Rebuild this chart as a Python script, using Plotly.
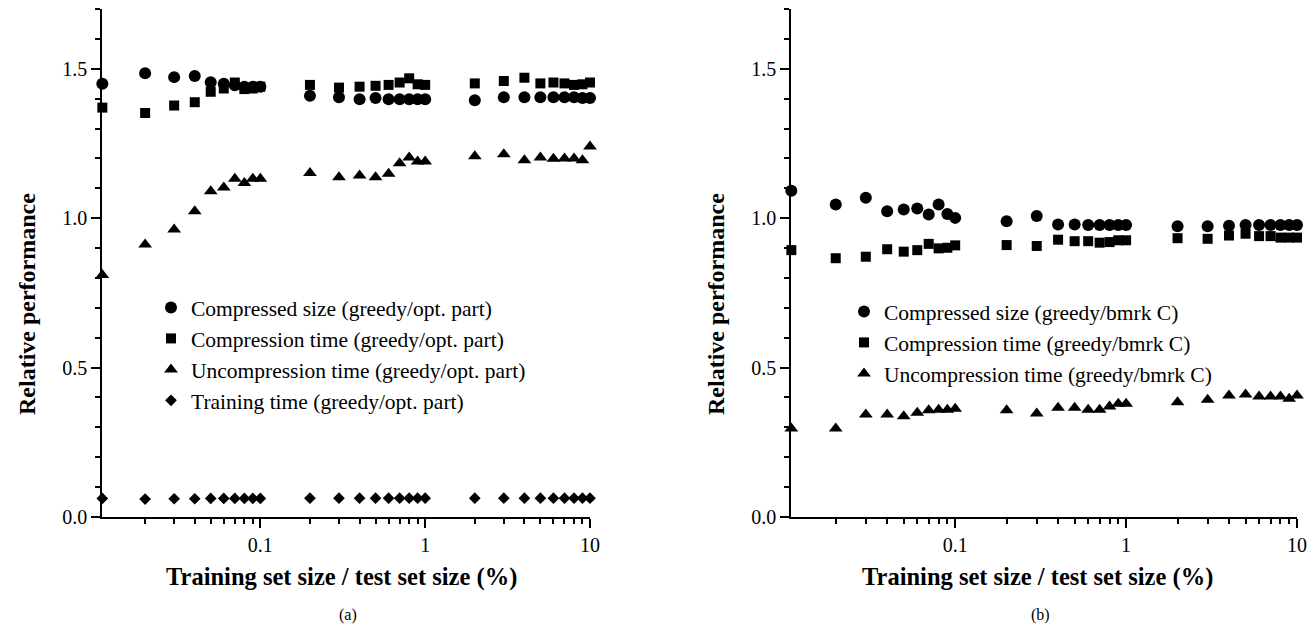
import math
import plotly.graph_objects as go

x_vals = [0.011, 0.02, 0.03, 0.04, 0.05, 0.06, 0.07, 0.08, 0.09, 0.1,
          0.2, 0.3, 0.4, 0.5, 0.6, 0.7, 0.8, 0.9, 1.0,
          2, 3, 4, 5, 6, 7, 8, 9, 10]

# Panel (a): greedy / opt. part
a_size = [1.45, 1.485, 1.472, 1.476, 1.455, 1.45, 1.445, 1.44, 1.44, 1.44,
          1.41, 1.405, 1.398, 1.402, 1.398, 1.398, 1.398, 1.398, 1.398,
          1.395, 1.405, 1.405, 1.405, 1.405, 1.405, 1.405, 1.402, 1.402]
a_ctime = [1.37, 1.352, 1.377, 1.388, 1.423, 1.434, 1.454, 1.432, 1.434, 1.44,
           1.446, 1.437, 1.44, 1.443, 1.446, 1.454, 1.468, 1.448, 1.446,
           1.451, 1.459, 1.47, 1.451, 1.454, 1.451, 1.446, 1.448, 1.454]
a_utime = [0.81, 0.912, 0.962, 1.023, 1.09, 1.103, 1.132, 1.118, 1.132, 1.132,
           1.151, 1.137, 1.143, 1.137, 1.149, 1.184, 1.203, 1.19, 1.19,
           1.207, 1.214, 1.194, 1.203, 1.199, 1.2, 1.2, 1.194, 1.24]
a_train = [0.062, 0.06, 0.061, 0.061, 0.062, 0.062, 0.062, 0.062, 0.062, 0.062,
           0.063, 0.063, 0.063, 0.063, 0.063, 0.063, 0.063, 0.063, 0.063,
           0.063, 0.063, 0.063, 0.063, 0.063, 0.063, 0.063, 0.063, 0.063]

# Panel (b): greedy / bmrk C
b_size = [1.092, 1.046, 1.068, 1.023, 1.029, 1.032, 1.012, 1.046, 1.014, 1.001,
          0.99, 1.007, 0.979, 0.979, 0.977, 0.977, 0.977, 0.977, 0.977,
          0.973, 0.973, 0.975, 0.977, 0.977, 0.977, 0.977, 0.977, 0.977]
b_ctime = [0.893, 0.866, 0.871, 0.896, 0.888, 0.893, 0.914, 0.899, 0.901, 0.909,
           0.91, 0.907, 0.928, 0.923, 0.923, 0.918, 0.92, 0.926, 0.926,
           0.933, 0.931, 0.942, 0.948, 0.94, 0.94, 0.935, 0.935, 0.935]
b_utime = [0.296, 0.296, 0.343, 0.343, 0.337, 0.349, 0.357, 0.359, 0.359, 0.362,
           0.357, 0.346, 0.366, 0.366, 0.359, 0.359, 0.37, 0.379, 0.379,
           0.384, 0.392, 0.407, 0.41, 0.403, 0.403, 0.403, 0.396, 0.407]

names_a = ["Compressed size (greedy/opt. part)", "Compression time (greedy/opt. part)",
           "Uncompression time (greedy/opt. part)", "Training time (greedy/opt. part)"]
names_b = ["Compressed size (greedy/bmrk C)", "Compression time (greedy/bmrk C)",
           "Uncompression time (greedy/bmrk C)"]

x_major = [0.1, 1, 10]
x_major_text = ["0.1", "1", "10"]
x_minor = [0.02, 0.03, 0.04, 0.05, 0.06, 0.07, 0.08, 0.09,
           0.2, 0.3, 0.4, 0.5, 0.6, 0.7, 0.8, 0.9,
           2, 3, 4, 5, 6, 7, 8, 9]
y_major = [0.0, 0.5, 1.0, 1.5]
y_major_text = ["0.0", "0.5", "1.0", "1.5"]

W, H = 1310, 625
FONT = "Liberation Serif, Times New Roman, serif"

symbols = ["circle", "square", "triangle-up", "diamond"]
sizes = [12, 10, 12, 9]

fig = go.Figure()
for ys, nm, sym, sz in zip([a_size, a_ctime, a_utime, a_train], names_a, symbols, sizes):
    fig.add_trace(go.Scatter(x=x_vals, y=ys, name=nm, mode="markers",
                             marker=dict(symbol=sym, size=sz, color="black"),
                             xaxis="x", yaxis="y", legend="legend", cliponaxis=False))
for ys, nm, sym, sz in zip([b_size, b_ctime, b_utime], names_b, symbols, sizes):
    fig.add_trace(go.Scatter(x=x_vals, y=ys, name=nm, mode="markers",
                             marker=dict(symbol=sym, size=sz, color="black"),
                             xaxis="x2", yaxis="y2", legend="legend2", cliponaxis=False))

xlo = math.log10(min(x_vals)) - 0.002

def xaxis(domain, anchor):
    return dict(type="log", domain=domain, anchor=anchor, automargin=False,
                range=[xlo, 1.0], showgrid=False, zeroline=False,
                showline=True, linecolor="black", linewidth=1.5,
                ticks="outside", ticklen=9, tickwidth=1.5, tickcolor="black",
                tickvals=x_major, ticktext=x_major_text,
                tickfont=dict(family=FONT, size=20, color="black"),
                minor=dict(tickvals=x_minor, ticks="outside", ticklen=5,
                           tickwidth=1.5, tickcolor="black", showgrid=False))

def yaxis(domain, anchor):
    return dict(domain=domain, anchor=anchor, range=[0, 1.7], automargin=False,
                showgrid=False, zeroline=False,
                showline=True, linecolor="black", linewidth=1.5,
                ticks="outside", ticklen=9, tickwidth=1.5, tickcolor="black",
                tickvals=y_major, ticktext=y_major_text,
                tickfont=dict(family=FONT, size=20, color="black"),
                minor=dict(dtick=0.1, tick0=0, ticks="outside", ticklen=5,
                           tickwidth=1.5, tickcolor="black", showgrid=False))

ydom = [(H - 517) / H, (H - 9) / H]

annots = []
def add_text(txt, x, y, size, bold=False, angle=0):
    annots.append(dict(text=("<b>%s</b>" % txt) if bold else txt, x=x / W, y=1 - y / H,
                       xref="paper", yref="paper", showarrow=False, textangle=angle,
                       xanchor="center", yanchor="middle",
                       font=dict(family=FONT, size=size, color="black")))

add_text("Training set size / test set size (%)", 341, 577, 24.5, bold=True)
add_text("Training set size / test set size (%)", 1037, 577, 24.5, bold=True)
add_text("Relative performance", 27, 304, 24, bold=True, angle=-90)
add_text("Relative performance", 716, 304, 24, bold=True, angle=-90)
add_text("(a)", 348, 615, 16)
add_text("(b)", 1040, 615, 16)

leg_common = dict(font=dict(family=FONT, size=21.5, color="black"),
                  bgcolor="rgba(0,0,0,0)", xanchor="left", yanchor="top",
                  tracegroupgap=0, itemsizing="trace")

fig.update_layout(
    width=W, height=H, margin=dict(l=0, r=0, t=0, b=0, autoexpand=False),
    paper_bgcolor="white", plot_bgcolor="white",
    xaxis=xaxis([102 / W, 590 / W], "y"),
    yaxis=yaxis(ydom, "x"),
    xaxis2=xaxis([791 / W, 1297 / W], "y2"),
    yaxis2=yaxis(ydom, "x2"),
    legend=dict(x=151 / W, y=1 - 287 / H, **leg_common),
    legend2=dict(x=844 / W, y=1 - 291 / H, **leg_common),
    annotations=annots,
    showlegend=True,
)

fig.write_html("out.html", config={"displayModeBar": False},
               post_script="document.body.style.margin='0';document.body.style.overflow='hidden';")
